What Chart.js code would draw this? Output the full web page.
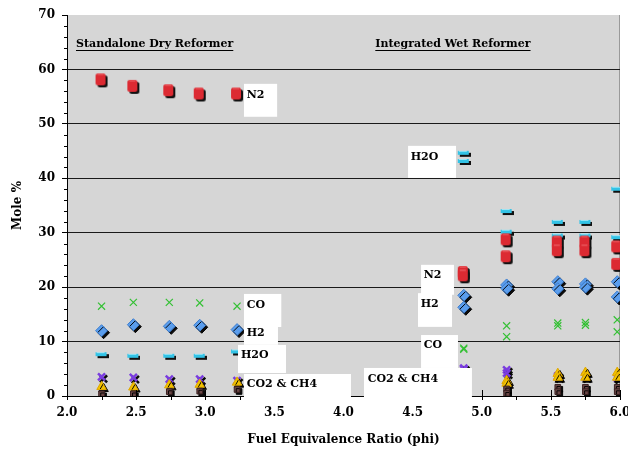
<!DOCTYPE html>
<html>
<head>
<meta charset="utf-8">
<script src="https://cdn.jsdelivr.net/npm/chart.js@4.4.1/dist/chart.umd.min.js"></script>
<style>
  html, body { margin: 0; padding: 0; background: #fff; }
  #wrap { width: 628px; height: 454px; }
</style>
</head>
<body>
<div id="wrap"><canvas id="chart"></canvas></div>
<script>
// Standalone dry reformer (one sample per phi)
const phiDry = [2.25, 2.48, 2.74, 2.96, 3.23];
const n2Dry = [58.0, 56.8, 56.0, 55.4, 55.4];
const coDry = [16.5, 17.2, 17.2, 17.1, 16.5];
const h2Dry = [12.0, 13.1, 12.8, 13.0, 12.2];
const h2oDry = [7.5, 7.2, 7.2, 7.2, 8.0];
const co2Dry = [3.5, 3.4, 3.1, 3.1, 2.8];
const ch4Dry = [1.7, 1.6, 2.0, 2.1, 2.5];
const otherDry = [0.4, 0.4, 0.8, 0.9, 1.2];

// Integrated wet reformer (two samples per phi)
const phiWet = [4.87, 4.87, 5.18, 5.18, 5.55, 5.55, 5.75, 5.75, 5.98, 5.98];
const n2Wet = [22.6, 22.0, 28.6, 25.5, 28.2, 26.6, 28.2, 26.6, 27.3, 24.1];
const h2Wet = [18.5, 16.3, 20.4, 19.8, 21.0, 19.7, 20.6, 20.0, 21.0, 18.2];
const coWet = [8.8, 8.6, 12.9, 10.9, 13.4, 12.9, 13.5, 13.0, 14.0, 11.8];
const h2oWet = [44.5, 43.0, 33.8, 30.0, 31.8, 29.3, 31.8, 29.3, 37.9, 29.0];
const co2Wet = [5.1, 4.9, 4.8, 4.2, 3.7, 3.5, 3.7, 3.5, 3.5, 3.3];
const ch4Wet = [2.6, 2.2, 2.8, 2.3, 4.1, 3.4, 4.3, 3.4, 4.3, 3.4];
const otherWet = [0.8, 0.4, 1.3, 0.5, 1.6, 0.8, 1.6, 0.8, 1.6, 0.8];

const yTicks = [0, 10, 20, 30, 40, 50, 60, 70];
const xTicks = [2.0, 2.5, 3.0, 3.5, 4.0, 4.5, 5.0, 5.5, 6.0];

const FONT = "'DejaVu Serif', 'Liberation Serif', serif";

function pts(xs, ys) {
    return ys.map((v, i) => ({ x: xs[i], y: v }));
}

// label boxes: [x1, y1, x2, y2] in data units, text anchor in data units
const labelBoxes = [
    { text: 'N2', box: [3.28, 57.35, 3.52, 51.3], at: [3.30, 55.3] },
    { text: 'CO', box: [3.28, 18.75, 3.55, 12.68], at: [3.30, 16.7] },
    { text: 'H2', box: [3.28, 12.68, 3.526, 9.4], at: [3.30, 11.6] },
    { text: 'H2O', box: [3.237, 9.38, 3.584, 4.23], at: [3.258, 7.54] },
    { text: 'CO2 & CH4', box: [3.28, 4.04, 4.054, -0.8], at: [3.30, 2.2] },
    { text: 'CO2 & CH4', box: [4.148, 5.15, 4.929, -0.8], at: [4.175, 3.1] },
    { text: 'CO', box: [4.561, 11.2, 4.828, 5.15], at: [4.58, 9.4] },
    { text: 'H2', box: [4.539, 18.9, 4.785, 12.7], at: [4.558, 16.9] },
    { text: 'N2', box: [4.561, 24.1, 4.799, 18.6], at: [4.58, 22.2] },
    { text: 'H2O', box: [4.467, 45.96, 4.814, 40.07], at: [4.486, 43.9] }
];
const headings = [
    { text: 'Standalone Dry Reformer', at: [2.065, 64.6] },
    { text: 'Integrated Wet Reformer', at: [4.23, 64.6] }
];

// cyan dash marker with its dark shadow
function dashMarker() {
    const c = document.createElement('canvas');
    c.width = 14; c.height = 8;
    const g = c.getContext('2d');
    g.fillStyle = '#111';
    g.fillRect(3, 3, 11, 4);
    g.fillStyle = '#33c3e6';
    g.fillRect(1, 1, 11, 4);
    g.fillStyle = '#9be6f7';
    g.fillRect(2, 1, 8, 1);
    return c;
}

// red rounded block with its dark shadow
function blockMarker() {
    const c = document.createElement('canvas');
    c.width = 14; c.height = 16;
    const g = c.getContext('2d');
    g.fillStyle = '#111';
    g.beginPath();
    g.roundRect(3, 3, 10, 12, 2.5);
    g.fill();
    g.fillStyle = '#dc2a32';
    g.beginPath();
    g.roundRect(1, 1, 10, 12, 2.5);
    g.fill();
    g.fillStyle = '#ee6a6e';
    g.fillRect(3, 1.5, 6, 1);
    return c;
}

const shadowPlugin = {
    id: 'shadow',
    beforeDatasetDraw(chart, args) {
        const ds = chart.data.datasets[args.index];
        if (!ds.shadow) return;
        const ctx = chart.ctx;
        ctx.save();
        ctx.shadowColor = 'rgba(0,0,0,0.95)';
        ctx.shadowOffsetX = 2;
        ctx.shadowOffsetY = 2;
        ctx.shadowBlur = 0;
    },
    afterDatasetDraw(chart, args) {
        const ds = chart.data.datasets[args.index];
        if (ds.shadow) chart.ctx.restore();
    }
};

const framePlugin = {
    id: 'frame',
    beforeDraw(chart) {
        const a = chart.chartArea, ctx = chart.ctx;
        ctx.save();
        ctx.fillStyle = '#d6d6d6';
        ctx.fillRect(a.left, a.top, a.right - a.left, a.bottom - a.top);
        ctx.strokeStyle = '#9a9a9a';
        ctx.lineWidth = 1;
        ctx.beginPath();
        ctx.moveTo(a.right - 0.5, a.top);
        ctx.lineTo(a.right - 0.5, a.bottom);
        ctx.stroke();
        ctx.restore();
    },
    afterDraw(chart) {
        const ctx = chart.ctx;
        const xs = chart.scales.x, ys = chart.scales.y;
        const a = chart.chartArea;
        ctx.save();
        ctx.strokeStyle = '#000';
        ctx.lineWidth = 1;
        ctx.beginPath();
        // y minor ticks every 2
        for (let v = 0; v <= 70; v += 2) {
            if (v % 10 === 0) continue;
            const py = Math.round(ys.getPixelForValue(v)) + 0.5;
            ctx.moveTo(a.left - 3, py);
            ctx.lineTo(a.left, py);
        }
        // x ticks: major cross the axis, minor below
        for (let v = 2.0; v <= 6.001; v += 0.25) {
            const px = Math.round(xs.getPixelForValue(v)) + 0.5;
            const major = Math.abs(v * 2 - Math.round(v * 2)) < 1e-6;
            ctx.moveTo(px, a.bottom + 4);
            ctx.lineTo(px, major ? a.bottom - 6 : a.bottom);
        }
        ctx.stroke();

        // white label boxes over the plot
        ctx.font = 'bold 11px ' + FONT;
        ctx.textBaseline = 'middle';
        ctx.textAlign = 'left';
        labelBoxes.forEach(l => {
            const x1 = xs.getPixelForValue(l.box[0]);
            const y1 = ys.getPixelForValue(l.box[1]);
            const x2 = xs.getPixelForValue(l.box[2]);
            const y2 = ys.getPixelForValue(l.box[3]);
            ctx.fillStyle = '#fff';
            ctx.fillRect(x1, y1, x2 - x1, y2 - y1);
        });
        labelBoxes.forEach(l => {
            ctx.fillStyle = '#000';
            ctx.fillText(l.text, xs.getPixelForValue(l.at[0]), ys.getPixelForValue(l.at[1]));
        });

        // underlined headings
        headings.forEach(h => {
            const px = xs.getPixelForValue(h.at[0]);
            const py = ys.getPixelForValue(h.at[1]);
            ctx.fillStyle = '#000';
            ctx.fillText(h.text, px, py);
            const w = ctx.measureText(h.text).width;
            ctx.fillRect(px, Math.round(py + 6), w, 1);
        });
        ctx.restore();
    }
};

function series(label, data, style) {
    return Object.assign({ label: label, data: data, showLine: false }, style);
}

const n2Style = { pointStyle: blockMarker(), pointRadius: 7, backgroundColor: '#dc2a32', borderColor: '#dc2a32', shadow: false };
const h2Style = { pointStyle: 'rectRot', pointRadius: 6, backgroundColor: '#5a9ded', borderColor: '#3f7fcf', borderWidth: 1, shadow: true };
const coStyle = { pointStyle: 'crossRot', pointRadius: 5, backgroundColor: '#33c033', borderColor: '#33c033', borderWidth: 1.2, shadow: false };
const h2oStyle = { pointStyle: dashMarker(), pointRadius: 6, backgroundColor: '#33c3e6', borderColor: '#33c3e6', shadow: false };
const co2Style = { pointStyle: 'crossRot', pointRadius: 5, backgroundColor: '#7a3ce0', borderColor: '#7a3ce0', borderWidth: 2.5, shadow: true };
const ch4Style = { pointStyle: 'triangle', pointRadius: 5.5, backgroundColor: '#f2c200', borderColor: '#e0a800', borderWidth: 1, shadow: true };
const otherStyle = { pointStyle: 'rect', pointRadius: 4, backgroundColor: '#6a4646', borderColor: '#3a2020', borderWidth: 1, shadow: true };

const datasets = [
    series('Other dry', pts(phiDry, otherDry), otherStyle),
    series('CH4 dry', pts(phiDry, ch4Dry), ch4Style),
    series('CO2 dry', pts(phiDry, co2Dry), co2Style),
    series('H2O dry', pts(phiDry, h2oDry), h2oStyle),
    series('H2 dry', pts(phiDry, h2Dry), h2Style),
    series('CO dry', pts(phiDry, coDry), coStyle),
    series('N2 dry', pts(phiDry, n2Dry), n2Style),
    series('Other wet', pts(phiWet, otherWet), otherStyle),
    series('CH4 wet', pts(phiWet, ch4Wet), ch4Style),
    series('CO2 wet', pts(phiWet, co2Wet), co2Style),
    series('CO wet', pts(phiWet, coWet), coStyle),
    series('H2 wet', pts(phiWet, h2Wet), h2Style),
    series('N2 wet', pts(phiWet, n2Wet), n2Style),
    series('H2O wet', pts(phiWet, h2oWet), h2oStyle)
];

const ctx = document.getElementById('chart').getContext('2d');
new Chart(ctx, {
    type: 'scatter',
    data: { datasets: datasets },
    options: {
        responsive: true,
        maintainAspectRatio: false,
        animation: false,
        layout: { padding: { top: 15, right: 8, left: 0, bottom: 0 } },
        plugins: {
            legend: { display: false },
            tooltip: { enabled: false }
        },
        scales: {
            x: {
                type: 'linear',
                min: 2,
                max: 6,
                afterFit: function (scale) {
                    scale.height = 58;
                    scale.paddingLeft = 0;
                    scale.paddingRight = 0;
                },
                afterBuildTicks: function (scale) { scale.ticks = xTicks.map(v => ({ value: v })); },
                grid: { display: true, drawOnChartArea: false, tickLength: 4, tickColor: 'rgba(0,0,0,0)' },
                border: { display: true, color: '#000', width: 1 },
                ticks: {
                    padding: 6,
                    color: '#000',
                    font: { family: FONT, size: 12, weight: 'bold' },
                    callback: v => Number(v).toFixed(1),
                    maxRotation: 0,
                    autoSkip: false
                },
                title: {
                    display: true,
                    text: 'Fuel Equivalence Ratio (phi)',
                    color: '#000',
                    font: { family: FONT, size: 12, weight: 'bold' },
                    padding: { top: 0, bottom: 7 }
                }
            },
            y: {
                min: 0,
                max: 70,
                afterFit: function (scale) {
                    scale.width = 67;
                    scale.paddingTop = 0;
                    scale.paddingBottom = 0;
                },
                afterBuildTicks: function (scale) { scale.ticks = yTicks.map(v => ({ value: v })); },
                grid: {
                    color: c => (c.tick && (c.tick.value === 70 || c.tick.value === 0)) ? 'rgba(0,0,0,0)' : '#1a1a1a',
                    tickColor: '#000',
                    tickLength: 5,
                    lineWidth: 1
                },
                border: { display: true, color: '#000', width: 1 },
                ticks: {
                    padding: 7,
                    color: '#000',
                    font: { family: FONT, size: 12, weight: 'bold' }
                },
                title: {
                    display: true,
                    text: 'Mole %',
                    color: '#000',
                    font: { family: FONT, size: 12, weight: 'bold' },
                    padding: { top: 11, bottom: 0 }
                }
            }
        }
    },
    plugins: [shadowPlugin, framePlugin]
});
</script>
</body>
</html>
